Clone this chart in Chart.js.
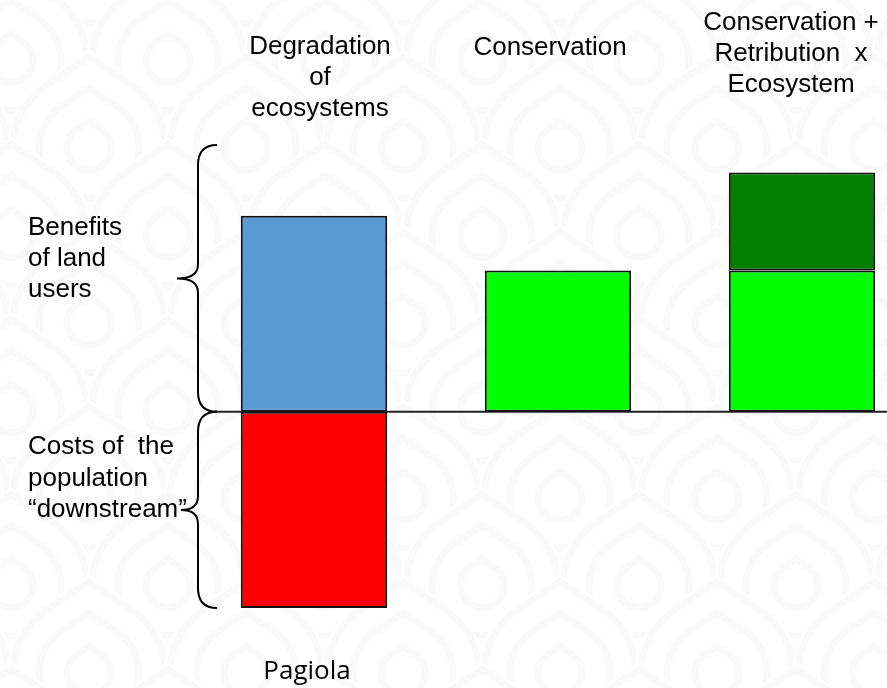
<!DOCTYPE html>
<html>
<head>
<meta charset="utf-8">
<script src="https://cdn.jsdelivr.net/npm/chart.js@4/dist/chart.umd.min.js"></script>
<style>
  html, body { margin: 0; padding: 0; overflow: hidden; background: #ffffff; }
  #wrap { width: 940px; height: 688px; }
</style>
</head>
<body>
<div id="wrap"><canvas id="c" width="940" height="688"></canvas></div>
<script>
// Scenarios compared, and the stacked components of each one
const scenarios = ['Degradation\nof\necosystems', 'Conservation', 'Conservation +\nRetribution  x\nEcosystem'];
const landUserBenefits = [100, 72, 72];
const downstreamCosts = [-100, 0, 0];
const retribution = [0, 0, 50];
const benefitColors = ['#5B9BD5', '#00FF00', '#00FF00'];
const sideLabels = ['Benefits\nof land\nusers', 'Costs of  the\npopulation\n“downstream”'];
const sourceLabel = 'Pagiola';

const TEXT_FONT = '26px "Liberation Sans", Arial, sans-serif';

// Teardrop outline: a circle whose top runs up into a point
function teardrop(ctx, cx, cy, r) {
  const a = Math.PI / 3.2;
  const tipY = cy - r / Math.sin(a);
  ctx.moveTo(cx, tipY);
  ctx.lineTo(cx + r * Math.cos(a), cy - r * Math.sin(a));
  ctx.arc(cx, cy, r, -a, -Math.PI + a, false);
  ctx.closePath();
}

// Faint watermark of concentric teardrops behind the chart
const watermark = {
  id: 'watermark',
  beforeDraw(chart) {
    const ctx = chart.ctx;
    ctx.save();
    ctx.fillStyle = '#ffffff';
    ctx.fillRect(0, 0, chart.width, chart.height);
    const dx = 157, dy = 87.5;
    for (let row = -7; row <= 3; row++) {
      const cy = 498 + row * dy;
      const shift = (row % 2 === 0) ? 0 : -78;
      for (let col = -5; col <= 4; col++) {
        const cx = 560 + shift + col * dx;
        ctx.beginPath();
        teardrop(ctx, cx, cy, 82);
        ctx.fillStyle = '#ffffff';
        ctx.fill();
        ctx.strokeStyle = '#f9f9f9';
        ctx.lineWidth = 7;
        [76, 50, 22].forEach(r => {
          ctx.beginPath();
          teardrop(ctx, cx, cy, r);
          ctx.stroke();
        });
      }
    }
    ctx.restore();
  }
};

// Curly brace opening to the right, tip pointing left
function brace(ctx, yTop, yBot, xEnd, xSpine, xTip) {
  const yMid = (yTop + yBot) / 2;
  const r = 20;
  ctx.beginPath();
  ctx.moveTo(xEnd, yTop);
  ctx.quadraticCurveTo(xSpine, yTop, xSpine, yTop + r);
  ctx.lineTo(xSpine, yMid - 14);
  ctx.quadraticCurveTo(xSpine, yMid, xTip, yMid);
  ctx.quadraticCurveTo(xSpine, yMid, xSpine, yMid + 14);
  ctx.lineTo(xSpine, yBot - r);
  ctx.quadraticCurveTo(xSpine, yBot, xEnd, yBot);
  ctx.stroke();
}

function multiline(ctx, text, x, y, lh) {
  text.split('\n').forEach((line, i) => ctx.fillText(line, x, y + i * lh));
}

// Header placement per scenario: horizontal nudge and first-line centre
const headerNudge = [6, -8, -11];
const headerTop = [47, 48, 23];

const annotations = {
  id: 'annotations',
  beforeDatasetsDraw(chart) {
    const ctx = chart.ctx;
    const y0 = chart.scales.y.getPixelForValue(0);
    ctx.save();
    ctx.strokeStyle = '#222222';
    ctx.lineWidth = 2;
    ctx.beginPath();
    ctx.moveTo(215, y0);
    ctx.lineTo(chart.width, y0);
    ctx.stroke();
    ctx.restore();
  },
  afterDraw(chart) {
    const ctx = chart.ctx;
    const x = chart.scales.x, y = chart.scales.y;
    const area = chart.chartArea;
    const y0 = y.getPixelForValue(0);
    ctx.save();
    ctx.strokeStyle = '#000000';
    ctx.lineWidth = 2;
    brace(ctx, area.top, y0, 217, 198, 177);
    brace(ctx, y0, area.bottom, 217, 198, 181);

    ctx.fillStyle = '#000000';
    ctx.font = TEXT_FONT;
    ctx.textBaseline = 'middle';
    ctx.textAlign = 'center';
    scenarios.forEach((s, i) => {
      multiline(ctx, s, x.getPixelForValue(i) + headerNudge[i], headerTop[i], 31);
    });
    ctx.textAlign = 'left';
    multiline(ctx, sideLabels[0], 28, 228, 31);
    multiline(ctx, sideLabels[1], 28, 447, 31.5);

    ctx.textAlign = 'center';
    ctx.font = '26px "Open Sans", "Noto Sans", sans-serif';
    ctx.fillText(sourceLabel, 307, 672);
    ctx.restore();
  }
};

const barStyle = { borderColor: '#111111', borderWidth: 2, borderSkipped: false };

new Chart(document.getElementById('c'), {
  type: 'bar',
  data: {
    labels: scenarios,
    datasets: [
      Object.assign({ label: 'Benefits of land users', data: landUserBenefits, backgroundColor: benefitColors }, barStyle),
      Object.assign({ label: 'Costs downstream', data: downstreamCosts, backgroundColor: '#FF0000' }, barStyle),
      Object.assign({ label: 'Retribution', data: retribution, backgroundColor: '#007F00' }, barStyle)
    ]
  },
  options: {
    responsive: false,
    animation: false,
    events: [],
    layout: { padding: { top: 145, bottom: 80, left: 192, right: 16 } },
    datasets: { bar: { categoryPercentage: 1, barPercentage: 0.6 } },
    plugins: { legend: { display: false }, tooltip: { enabled: false } },
    scales: {
      x: { display: false, stacked: true },
      y: { display: false, stacked: true, min: -100, max: 136 }
    }
  },
  plugins: [watermark, annotations]
});
</script>
</body>
</html>
